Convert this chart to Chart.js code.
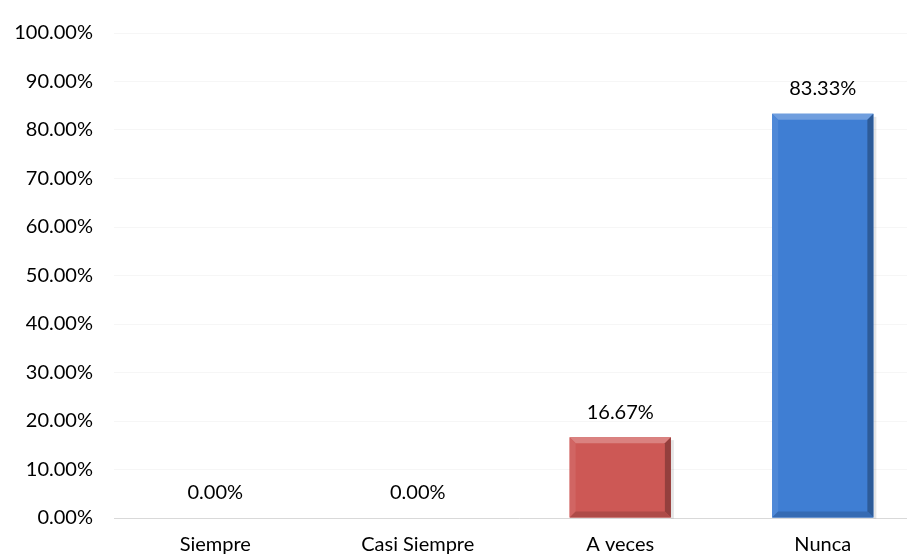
<!DOCTYPE html>
<html>
<head>
<meta charset="utf-8">
<script src="https://cdn.jsdelivr.net/npm/chart.js@4/dist/chart.umd.min.js"></script>
<style>
  html, body { margin:0; padding:0; background:#fff; overflow:hidden; }
  #wrap { width:926px; height:554px; overflow:hidden; }
</style>
</head>
<body>
<div id="wrap"><canvas id="chart" width="926" height="572"></canvas></div>
<script>
// data
const categories = ["Siempre", "Casi Siempre", "A veces", "Nunca"];
const percents = [0, 0, 16.67, 83.33];
const barColors = ["#cd5855", "#cd5855", "#cd5855", "#3f7ed3"];
const yTicks = [0, 10, 20, 30, 40, 50, 60, 70, 80, 90, 100];

const FONT = "Lato, 'Open Sans', sans-serif";

function shade(hex, amt){
    let n = parseInt(hex.slice(1), 16);
    let r = (n >> 16) & 255, g = (n >> 8) & 255, b = n & 255;
    const f = v => Math.max(0, Math.min(255, Math.round(amt > 0 ? v + (255 - v) * amt : v * (1 + amt))));
    return "rgb(" + f(r) + "," + f(g) + "," + f(b) + ")";
}

// bevel look + value labels
const bevelPlugin = {
    id: "bevel",
    afterDatasetsDraw(chart){
        const ctx = chart.ctx;
        const meta = chart.getDatasetMeta(0);
        meta.data.forEach((bar, i) => {
            const v = percents[i];
            const col = barColors[i];
            const w = bar.width;
            const l = bar.x - w / 2, r = bar.x + w / 2, t = bar.y, b = bar.base;
            if (b - t > 2) {
                const s = 6;
                ctx.save();
                // shadow on right
                ctx.fillStyle = "rgba(0,0,0,0.10)";
                ctx.fillRect(r, t + 3, 3, b - t - 2);
                // top
                ctx.fillStyle = shade(col, 0.25);
                ctx.beginPath();
                ctx.moveTo(l, t); ctx.lineTo(r, t); ctx.lineTo(r - s, t + s); ctx.lineTo(l + s, t + s);
                ctx.closePath(); ctx.fill();
                // left
                ctx.fillStyle = shade(col, 0.08);
                ctx.beginPath();
                ctx.moveTo(l, t); ctx.lineTo(l + s, t + s); ctx.lineTo(l + s, b - s); ctx.lineTo(l, b);
                ctx.closePath(); ctx.fill();
                // right
                ctx.fillStyle = shade(col, -0.28);
                ctx.beginPath();
                ctx.moveTo(r, t); ctx.lineTo(r - s, t + s); ctx.lineTo(r - s, b - s); ctx.lineTo(r, b);
                ctx.closePath(); ctx.fill();
                // bottom
                ctx.fillStyle = shade(col, -0.15);
                ctx.beginPath();
                ctx.moveTo(l, b); ctx.lineTo(l + s, b - s); ctx.lineTo(r - s, b - s); ctx.lineTo(r, b);
                ctx.closePath(); ctx.fill();
                ctx.restore();
            }
            ctx.save();
            ctx.fillStyle = "#000";
            ctx.font = "20px " + FONT;
            ctx.textAlign = "center";
            ctx.textBaseline = "middle";
            ctx.fillText(v.toFixed(2) + "%", bar.x, t - 25);
            ctx.restore();
        });
    }
};

new Chart(document.getElementById("chart"), {
    type: "bar",
    data: {
        labels: categories,
        datasets: [{
            data: percents,
            backgroundColor: barColors,
            borderWidth: 0,
            barPercentage: 0.5,
            categoryPercentage: 1
        }]
    },
    options: {
        responsive: false,
        animation: false,
        layout: { padding: { top: 32, right: 2, left: 0, bottom: 0 } },
        plugins: { legend: { display: false }, tooltip: { enabled: false } },
        scales: {
            x: {
                grid: { display: false, drawTicks: false },
                border: { color: "#d9d9d9" },
                ticks: { color: "#000", font: { family: FONT, size: 20 }, padding: 15 }
            },
            y: {
                min: 0, max: 100,
                afterBuildTicks: axis => { axis.ticks = yTicks.map(v => ({ value: v })); },
                afterFit: axis => { axis.width = 114; },
                grid: { color: "#f6f6f6", drawTicks: false },
                border: { display: false },
                ticks: {
                    color: "#000",
                    font: { family: FONT, size: 20 },
                    padding: 21,
                    callback: v => v.toFixed(2) + "%"
                }
            }
        }
    },
    plugins: [bevelPlugin]
});
</script>
</body>
</html>
